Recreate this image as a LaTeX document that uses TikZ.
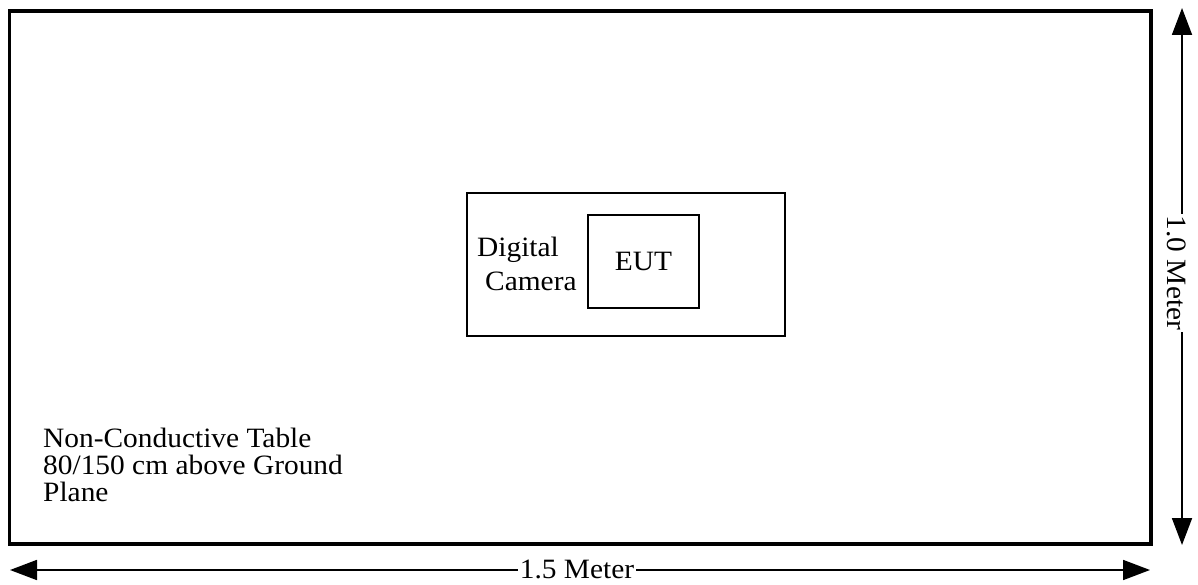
\documentclass[tikz,border=0pt]{standalone}
\usepackage{fontspec}
\setmainfont{Liberation Serif}
\usetikzlibrary{arrows.meta}
\tikzset{
  tablebox/.style={draw, line width=3.5pt, inner sep=0pt},
  thinbox/.style={draw, line width=1.8pt, inner sep=0pt},
  lbl/.style={font=\fontsize{28}{31}\selectfont, inner sep=0pt},
  dimline/.style={line width=1.8pt, {Triangle[length=27pt,width=20pt]}-{Triangle[length=27pt,width=20pt]}},
  dimlabel/.style={lbl, fill=white, inner xsep=2pt, inner ysep=1pt}
}
\newcommand{\wide}[1]{\scalebox{1.05}[1]{#1}}
\begin{document}
\begin{tikzpicture}[x=1pt,y=-1pt]
\useasboundingbox (0,0) rectangle (1198,585);
\fill[white] (0,0) rectangle (1198,585);
% table
\node[tablebox, minimum width=1141.5pt, minimum height=533pt] (table) at (580.25,277.5) {};
% camera and EUT
\node[thinbox, minimum width=318pt, minimum height=143pt] (cam) at (626,264.5) {};
\node[thinbox, minimum width=111pt, minimum height=93pt, lbl] (eut) at (643.5,261.5) {\wide{EUT}};
\node[lbl, anchor=base west] (dig1) at (477,256) {\wide{Digital}};
\node[lbl, anchor=base west] (dig2) at (485,290) {\wide{Camera}};
% table text
\node[lbl, anchor=base west] (t1) at (43,447) {\wide{Non-Conductive Table}};
\node[lbl, anchor=base west] (t2) at (43,474) {\wide{80/150 cm above Ground}};
\node[lbl, anchor=base west] (t3) at (43,501) {\wide{Plane}};
% horizontal dimension
\coordinate (hl) at (10,570);
\coordinate (hr) at (1150,570);
\draw[dimline] (hl) -- (hr);
\node[dimlabel] (hlab) at (577,569) {\wide{1.5 Meter}};
% vertical dimension
\coordinate (vt) at (1182,8);
\coordinate (vb) at (1182,545);
\draw[dimline] (vt) -- (vb);
\node[dimlabel, rotate=-90] (vlab) at (1177,273) {\wide{1.0 Meter}};
\end{tikzpicture}
\end{document}
